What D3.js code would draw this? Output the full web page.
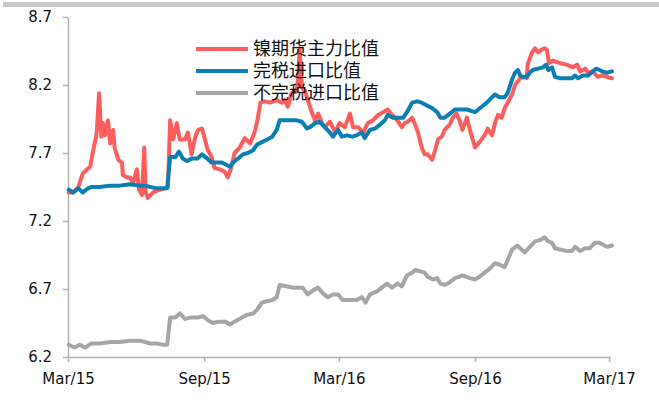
<!DOCTYPE html>
<html>
<head>
<meta charset="utf-8">
<script src="https://cdn.jsdelivr.net/npm/d3@7"></script>
<style>
  body { margin: 0; background: #fff; }
  svg { display: block; }
</style>
</head>
<body>
<div id="chart"></div>
<script>
// values, [date, ratio]
const nickelFutures = [
  ["2015-03-02",7.41],["2015-03-08",7.41],["2015-03-15",7.45],["2015-03-21",7.55],["2015-03-27",7.58],
  ["2015-03-31",7.60],["2015-04-04",7.72],["2015-04-08",7.82],["2015-04-09",7.87],["2015-04-12",8.14],
  ["2015-04-15",7.82],["2015-04-17",7.92],["2015-04-20",7.83],["2015-04-24",7.94],["2015-04-27",7.77],
  ["2015-05-01",7.87],["2015-05-03",7.74],["2015-05-08",7.65],["2015-05-13",7.63],["2015-05-14",7.54],
  ["2015-05-20",7.52],["2015-05-24",7.52],["2015-05-28",7.48],["2015-06-02",7.58],["2015-06-05",7.43],
  ["2015-06-09",7.39],["2015-06-12",7.74],["2015-06-14",7.41],["2015-06-17",7.37],["2015-06-24",7.41],
  ["2015-07-03",7.43],["2015-07-10",7.44],["2015-07-14",7.45],["2015-07-17",7.94],["2015-07-21",7.80],
  ["2015-07-26",7.92],["2015-07-30",7.80],["2015-08-06",7.80],["2015-08-10",7.85],["2015-08-15",7.69],
  ["2015-08-20",7.82],["2015-08-24",7.87],["2015-08-29",7.88],["2015-09-02",7.80],["2015-09-06",7.72],
  ["2015-09-11",7.67],["2015-09-15",7.59],["2015-09-22",7.58],["2015-09-29",7.56],["2015-10-03",7.52],
  ["2015-10-08",7.60],["2015-10-12",7.70],["2015-10-19",7.74],["2015-10-26",7.81],["2015-11-02",7.77],
  ["2015-11-08",7.85],["2015-11-12",7.94],["2015-11-16",8.07],["2015-11-22",8.08],["2015-11-29",8.07],
  ["2015-12-08",8.09],["2015-12-15",8.07],["2015-12-19",8.09],["2015-12-23",8.04],["2015-12-28",8.14],
  ["2016-01-04",8.16],["2016-01-06",8.25],["2016-01-08",8.47],["2016-01-11",8.18],["2016-01-15",8.16],
  ["2016-01-19",8.09],["2016-01-25",7.99],["2016-01-29",7.94],["2016-02-02",7.99],["2016-02-07",7.92],
  ["2016-02-11",7.89],["2016-02-18",7.93],["2016-02-25",7.85],["2016-03-02",7.92],["2016-03-09",7.89],
  ["2016-03-16",7.99],["2016-03-20",7.89],["2016-03-27",7.89],["2016-04-03",7.85],["2016-04-09",7.92],
  ["2016-04-16",7.94],["2016-04-23",7.98],["2016-04-30",8.00],["2016-05-06",8.02],["2016-05-12",7.98],
  ["2016-05-19",7.94],["2016-05-25",7.89],["2016-05-29",7.92],["2016-06-02",7.93],["2016-06-08",7.96],
  ["2016-06-12",7.91],["2016-06-16",7.85],["2016-06-21",7.74],["2016-06-25",7.69],["2016-06-29",7.69],
  ["2016-07-05",7.65],["2016-07-09",7.72],["2016-07-13",7.80],["2016-07-18",7.82],["2016-07-22",7.87],
  ["2016-07-29",7.91],["2016-08-02",7.96],["2016-08-07",7.99],["2016-08-11",7.94],["2016-08-15",7.87],
  ["2016-08-21",7.96],["2016-08-25",7.87],["2016-09-01",7.74],["2016-09-07",7.78],["2016-09-14",7.83],
  ["2016-09-18",7.88],["2016-09-24",7.83],["2016-09-28",7.92],["2016-10-02",7.98],["2016-10-07",7.96],
  ["2016-10-11",8.03],["2016-10-15",8.07],["2016-10-21",8.13],["2016-10-25",8.20],["2016-11-01",8.25],
  ["2016-11-04",8.26],["2016-11-10",8.25],["2016-11-11",8.35],["2016-11-17",8.44],["2016-11-21",8.47],
  ["2016-11-25",8.44],["2016-11-30",8.46],["2016-12-04",8.47],["2016-12-07",8.46],["2016-12-10",8.36],
  ["2016-12-15",8.38],["2016-12-25",8.36],["2017-01-03",8.35],["2017-01-11",8.33],["2017-01-17",8.35],
  ["2017-01-21",8.30],["2017-01-28",8.32],["2017-02-01",8.29],["2017-02-07",8.30],["2017-02-14",8.26],
  ["2017-02-19",8.27],["2017-02-26",8.26],["2017-03-05",8.25]
];

const dutyPaidImport = [
  ["2015-03-02",7.43],["2015-03-08",7.41],["2015-03-15",7.44],["2015-03-21",7.41],["2015-03-28",7.44],
  ["2015-04-02",7.45],["2015-04-13",7.45],["2015-04-27",7.46],["2015-05-10",7.46],["2015-05-24",7.47],
  ["2015-06-06",7.46],["2015-06-13",7.46],["2015-06-20",7.45],["2015-06-29",7.44],["2015-07-07",7.44],
  ["2015-07-13",7.44],["2015-07-17",7.67],["2015-07-24",7.67],["2015-07-29",7.71],["2015-08-03",7.66],
  ["2015-08-09",7.64],["2015-08-15",7.66],["2015-08-23",7.66],["2015-08-29",7.69],["2015-09-05",7.66],
  ["2015-09-11",7.63],["2015-09-18",7.63],["2015-09-25",7.63],["2015-10-02",7.61],["2015-10-06",7.60],
  ["2015-10-10",7.63],["2015-10-17",7.66],["2015-10-23",7.69],["2015-10-30",7.70],["2015-11-06",7.72],
  ["2015-11-11",7.76],["2015-11-18",7.78],["2015-11-25",7.80],["2015-12-02",7.82],["2015-12-08",7.87],
  ["2015-12-12",7.94],["2015-12-19",7.94],["2015-12-26",7.94],["2016-01-04",7.94],["2016-01-11",7.93],
  ["2016-01-18",7.88],["2016-01-22",7.89],["2016-01-29",7.92],["2016-02-04",7.93],["2016-02-11",7.89],
  ["2016-02-18",7.85],["2016-02-22",7.82],["2016-02-29",7.87],["2016-03-05",7.82],["2016-03-12",7.83],
  ["2016-03-19",7.82],["2016-03-25",7.83],["2016-04-01",7.85],["2016-04-05",7.81],["2016-04-12",7.87],
  ["2016-04-19",7.88],["2016-04-26",7.91],["2016-05-02",7.94],["2016-05-06",7.98],["2016-05-13",7.96],
  ["2016-05-20",7.96],["2016-05-27",7.96],["2016-06-01",8.00],["2016-06-08",8.07],["2016-06-15",8.08],
  ["2016-06-21",8.07],["2016-06-28",8.05],["2016-07-05",8.03],["2016-07-12",8.00],["2016-07-16",7.96],
  ["2016-07-22",7.96],["2016-07-29",7.99],["2016-08-05",8.02],["2016-08-11",8.02],["2016-08-21",8.02],
  ["2016-09-01",8.00],["2016-09-10",8.04],["2016-09-17",8.07],["2016-09-24",8.11],["2016-09-28",8.13],
  ["2016-10-04",8.11],["2016-10-11",8.11],["2016-10-15",8.14],["2016-10-21",8.24],["2016-10-25",8.29],
  ["2016-10-29",8.31],["2016-11-01",8.27],["2016-11-04",8.26],["2016-11-10",8.26],["2016-11-14",8.29],
  ["2016-11-18",8.31],["2016-11-25",8.32],["2016-12-02",8.33],["2016-12-06",8.35],["2016-12-09",8.31],
  ["2016-12-14",8.33],["2016-12-18",8.26],["2016-12-25",8.25],["2017-01-03",8.25],["2017-01-10",8.25],
  ["2017-01-14",8.27],["2017-01-18",8.25],["2017-01-25",8.27],["2017-02-01",8.27],["2017-02-07",8.30],
  ["2017-02-12",8.32],["2017-02-16",8.31],["2017-02-20",8.30],["2017-02-26",8.29],["2017-03-05",8.30]
];

const dutyFreeImport = [
  ["2015-03-02",6.29],["2015-03-10",6.27],["2015-03-17",6.29],["2015-03-24",6.27],["2015-04-02",6.30],
  ["2015-04-13",6.30],["2015-04-27",6.31],["2015-05-10",6.31],["2015-05-24",6.32],["2015-06-06",6.32],
  ["2015-06-13",6.31],["2015-06-20",6.30],["2015-06-29",6.30],["2015-07-07",6.29],["2015-07-13",6.29],
  ["2015-07-17",6.49],["2015-07-24",6.49],["2015-07-30",6.52],["2015-08-06",6.48],["2015-08-13",6.49],
  ["2015-08-23",6.49],["2015-08-31",6.50],["2015-09-06",6.47],["2015-09-13",6.45],["2015-09-20",6.46],
  ["2015-09-29",6.46],["2015-10-06",6.44],["2015-10-12",6.46],["2015-10-22",6.49],["2015-10-29",6.51],
  ["2015-11-06",6.52],["2015-11-12",6.55],["2015-11-18",6.60],["2015-11-25",6.61],["2015-12-03",6.62],
  ["2015-12-08",6.64],["2015-12-12",6.73],["2015-12-21",6.72],["2015-12-30",6.71],["2016-01-05",6.71],
  ["2016-01-12",6.71],["2016-01-19",6.66],["2016-01-26",6.69],["2016-02-02",6.71],["2016-02-08",6.67],
  ["2016-02-15",6.64],["2016-02-22",6.66],["2016-02-29",6.66],["2016-03-06",6.62],["2016-03-16",6.62],
  ["2016-03-25",6.62],["2016-04-01",6.64],["2016-04-06",6.60],["2016-04-12",6.66],["2016-04-21",6.68],
  ["2016-04-28",6.71],["2016-05-05",6.74],["2016-05-12",6.71],["2016-05-19",6.74],["2016-05-25",6.72],
  ["2016-06-01",6.80],["2016-06-08",6.82],["2016-06-12",6.84],["2016-06-19",6.83],["2016-06-25",6.82],
  ["2016-06-29",6.79],["2016-07-06",6.77],["2016-07-12",6.78],["2016-07-16",6.74],["2016-07-22",6.73],
  ["2016-07-29",6.75],["2016-08-05",6.78],["2016-08-11",6.79],["2016-08-15",6.80],["2016-08-25",6.78],
  ["2016-09-01",6.77],["2016-09-07",6.79],["2016-09-14",6.82],["2016-09-21",6.85],["2016-09-28",6.89],
  ["2016-10-04",6.88],["2016-10-11",6.86],["2016-10-15",6.91],["2016-10-21",6.99],["2016-10-28",7.02],
  ["2016-11-01",7.00],["2016-11-07",6.97],["2016-11-14",7.01],["2016-11-21",7.05],["2016-11-28",7.06],
  ["2016-12-04",7.08],["2016-12-09",7.05],["2016-12-14",7.04],["2016-12-18",7.00],["2016-12-25",6.99],
  ["2017-01-03",6.98],["2017-01-10",6.98],["2017-01-14",7.01],["2017-01-21",6.98],["2017-01-28",7.00],
  ["2017-02-03",7.00],["2017-02-10",7.04],["2017-02-16",7.04],["2017-02-23",7.02],["2017-02-27",7.01],
  ["2017-03-05",7.02]
];

const seriesNames = ["镍期货主力比值", "完税进口比值", "不完税进口比值"];
const seriesColors = ["#fe5d5d", "#0b7fb3", "#a6a6a6"];
const xTickDates = ["2015-03-01", "2015-09-01", "2016-03-01", "2016-09-01", "2017-03-01"];
const yTickValues = [6.2, 6.7, 7.2, 7.7, 8.2, 8.7];

const svgWidth = 659, svgHeight = 412;
const parse = d3.timeParse("%Y-%m-%d");

let x = d3.scaleTime()
  .domain([parse("2015-03-01"), parse("2017-03-01")])
  .range([68, 609]);

let y = d3.scaleLinear()
  .domain([6.2, 8.7])
  .range([357, 17]);

let svg = d3.select('#chart')
  .append('svg')
    .attr('width', svgWidth)
    .attr('height', svgHeight);

// grey strip along the top
svg.append('rect')
  .attr('x', 3).attr('y', 2)
  .attr('width', svgWidth - 3).attr('height', 5)
  .attr('fill', '#c9c9c9');

const axisColor = '#b3b3b3';
const tickFont = '"DejaVu Sans", sans-serif';

let yAxis = svg.append('g')
  .attr('transform', 'translate(68,0)')
  .call(d3.axisLeft(y).tickValues(yTickValues).tickFormat(d3.format('.1f')).tickSize(5).tickSizeOuter(0));

let xAxis = svg.append('g')
  .attr('transform', 'translate(0,357)')
  .call(d3.axisBottom(x).tickValues(xTickDates.map(parse)).tickFormat(d3.timeFormat('%b/%y')).tickSize(5).tickSizeOuter(0));

xAxis.select('.domain').attr('d', 'M68,0.5H611');

[xAxis, yAxis].forEach(function(g){
  g.selectAll('.domain, line').attr('stroke', axisColor).attr('stroke-width', 1.5);
  g.selectAll('text')
    .attr('fill', '#111')
    .style('font-family', tickFont)
    .style('font-size', '15px');
});
yAxis.selectAll('text').attr('x', -16);
xAxis.selectAll('text').attr('y', 16);

let line = d3.line()
  .x(d => x(parse(d[0])))
  .y(d => y(d[1]));

[nickelFutures, dutyPaidImport, dutyFreeImport].forEach(function(data, i){
  svg.append('path')
    .datum(data)
    .attr('d', line)
    .attr('fill', 'none')
    .attr('stroke', seriesColors[i])
    .attr('stroke-width', 4)
    .attr('stroke-linejoin', 'round')
    .attr('stroke-linecap', 'round');
});

// legend
let legend = svg.append('g').attr('transform', 'translate(196,49)');
seriesNames.forEach(function(name, i){
  let row = legend.append('g').attr('transform', `translate(0,${i * 22})`);
  row.append('line')
    .attr('x1', 0).attr('x2', 52)
    .attr('stroke', seriesColors[i])
    .attr('stroke-width', 4);
  row.append('text')
    .attr('x', 57).attr('dy', '0.35em')
    .style('font-family', '"Noto Sans CJK SC", sans-serif')
    .style('font-size', '18px')
    .attr('fill', '#111')
    .text(name);
});
</script>
</body>
</html>
